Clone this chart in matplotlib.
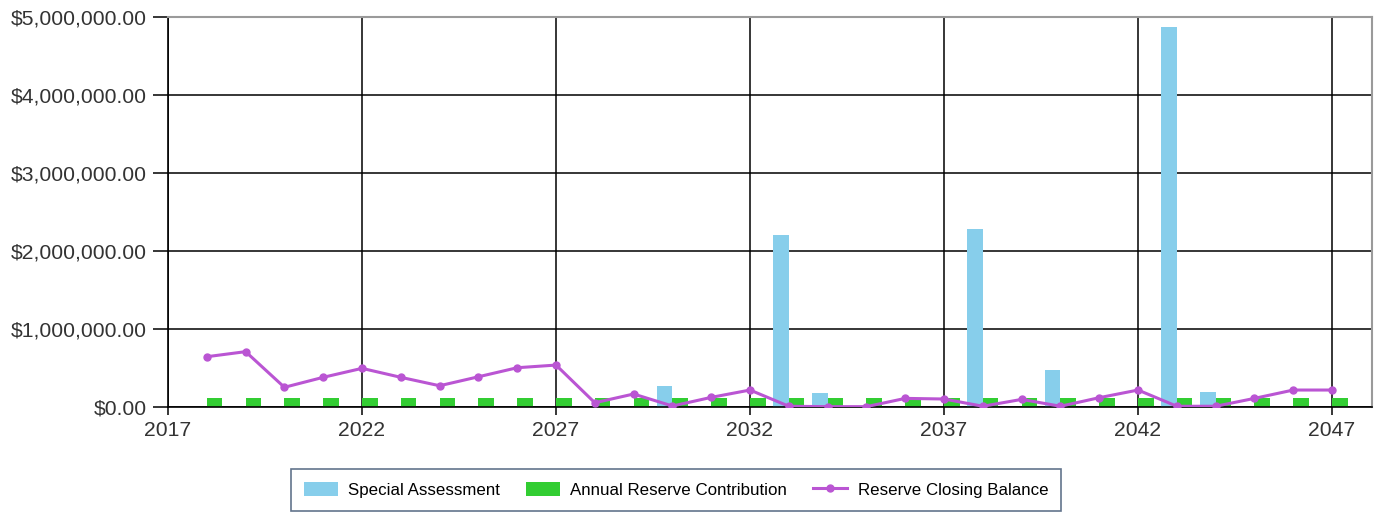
import matplotlib.pyplot as plt
import numpy as np
from matplotlib.ticker import FuncFormatter

years = list(range(2018, 2048))

# reserve closing balance at year end
closing_balance = [645000, 710000, 253000, 381000, 496000, 381000, 273000, 388000, 504000, 538000,
                   55000, 167000, 13000, 124000, 218000, 10000, 5000, 5000, 111000, 103000,
                   10000, 98000, 10000, 120000, 218000, 10000, 10000, 111000, 218000, 218000]

annual_contribution = [110000] * 30

special_assessment = [0, 0, 0, 0, 0, 0, 0, 0, 0, 0,
                      0, 0, 275000, 0, 0, 2200000, 175000, 0, 0, 0,
                      2280000, 0, 474000, 0, 0, 4870000, 196000, 0, 0, 0]

plt.rcParams['font.family'] = ['Liberation Sans', 'DejaVu Sans']

fig = plt.figure(figsize=(13.77, 5.12), dpi=100)
ax = fig.add_axes([0.122, 0.205, 0.8744, 0.7618])

x = np.array(years)
b1 = ax.bar(x - 0.2, special_assessment, width=0.4, color='#87CEEB', label='Special Assessment', zorder=2)
b2 = ax.bar(x + 0.2, annual_contribution, width=0.4, color='#32CD32', label='Annual Reserve Contribution', zorder=2)
l1, = ax.plot(x, closing_balance, color='#BA55D3', lw=2.2, marker='o', ms=5,
              label='Reserve Closing Balance', zorder=3)

ax.set_xlim(2017, 2048.03)
ax.set_ylim(0, 5000000)
ax.set_xticks([2017, 2022, 2027, 2032, 2037, 2042, 2047])
ax.set_yticks([0, 1000000, 2000000, 3000000, 4000000, 5000000])
ax.yaxis.set_major_formatter(FuncFormatter(lambda v, p: '${:,.2f}'.format(v)))

ax.grid(True, color='black', lw=1.1)
ax.set_axisbelow(True)
ax.tick_params(axis='y', length=11, width=1.1, pad=4, labelsize=15.2, labelcolor='#333333')
ax.tick_params(axis='x', length=6, width=1.1, pad=4, labelsize=15.2, labelcolor='#333333')

ax.spines['left'].set_color('black')
ax.spines['bottom'].set_color('black')
ax.spines['left'].set_linewidth(1.2)
ax.spines['bottom'].set_linewidth(1.2)
for side in ['top', 'right']:
    ax.spines[side].set_color('#9a9a9a')
    ax.spines[side].set_linewidth(1.5)

leg = fig.legend(handles=[b1, b2, l1], loc='center', bbox_to_anchor=(0.491, 0.043), ncol=3,
                 fontsize=12.2, frameon=True, fancybox=False, edgecolor='#3b5170',
                 handlelength=2.0, handleheight=0.9, handletextpad=0.6, columnspacing=1.55,
                 borderpad=0.75, borderaxespad=0)
leg.get_frame().set_linewidth(1.2)

fig.savefig('out.png', dpi=100)
